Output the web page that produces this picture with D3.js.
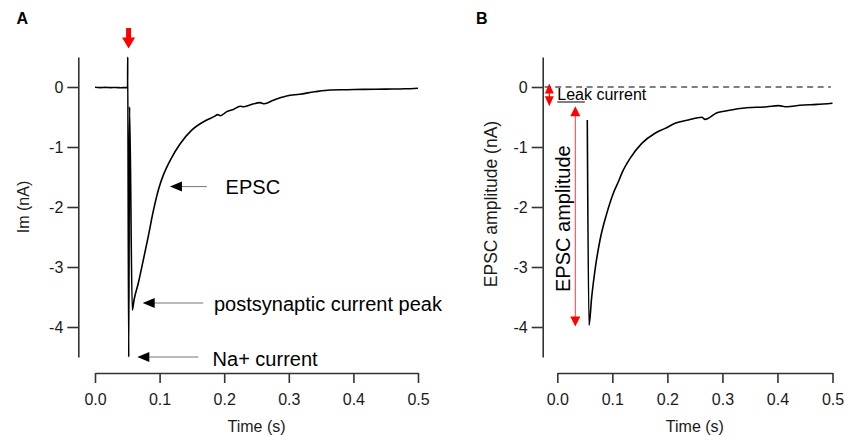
<!DOCTYPE html>
<html><head><meta charset="utf-8">
<script src="https://cdn.jsdelivr.net/npm/d3@7"></script>
<style>
body{margin:0;background:#fff;}
svg{display:block;font-family:"Liberation Sans",Arial,Helvetica,sans-serif;}
</style></head><body>
<svg id="chart" width="846" height="436"></svg>
<script>
// ---------------- data ----------------
const xTickValues = [0, 0.1, 0.2, 0.3, 0.4, 0.5];
const yTickValues = [0, -1, -2, -3, -4];

// Panel A: raw recorded current (nA) vs time (s)
const timeA = [0, 0.008, 0.016, 0.024, 0.032, 0.04, 0.048, 0.0505,
  0.0506, 0.0522, 0.0535, 0.0577,
  0.0604, 0.067, 0.0748, 0.0825, 0.0902, 0.0985, 0.105, 0.111, 0.117,
  0.1316, 0.1497, 0.173, 0.185, 0.19, 0.194, 0.204, 0.215, 0.2245, 0.23, 0.24,
  0.2554, 0.262, 0.276, 0.2967, 0.317, 0.34, 0.364, 0.39, 0.415, 0.45, 0.48, 0.5];
const currentA = [-0.005, -0.01, -0.006, -0.01, -0.008, -0.012, -0.01, -0.01,
  0.5, -4.5, -0.33, -3.72,
  -3.55, -3.27, -2.88, -2.49, -2.07, -1.70, -1.49, -1.34, -1.21,
  -0.95, -0.72, -0.55, -0.49, -0.46, -0.48, -0.41, -0.37, -0.32, -0.33, -0.30,
  -0.26, -0.28, -0.22, -0.15, -0.12, -0.08, -0.05, -0.045, -0.04, -0.035, -0.03, -0.02];

// Panel B: leak-corrected EPSC trace
const timeB = [0.0545, 0.0576, 0.0625, 0.0685, 0.0776, 0.0898, 0.1018, 0.1109, 0.1171,
  0.1322, 0.1535, 0.1776, 0.1958, 0.214, 0.238, 0.2625, 0.2685, 0.29, 0.308,
  0.344, 0.381, 0.402, 0.417, 0.441, 0.4716, 0.5];
const currentB = [-0.55, -3.97, -3.50, -3.05, -2.55, -2.11, -1.77, -1.58, -1.44,
  -1.19, -0.94, -0.77, -0.69, -0.605, -0.55, -0.505, -0.54, -0.43, -0.395,
  -0.345, -0.33, -0.31, -0.33, -0.305, -0.29, -0.27];

const annotationLabels = ["EPSC", "postsynaptic current peak", "Na+ current"];
const leakLabel = "Leak current";
const amplitudeLabel = "EPSC amplitude";
const stimulusTime = 0.052;
const leakLevel = -0.25;
const leakBottom = -0.32;
const peakB = -3.99;

// ---------------- layout ----------------
const svg = d3.select("#chart");
const FONT = 16;
const yRange = [357, 57];
const yDomain = [-4.5, 0.5];

const xA = d3.scaleLinear().domain([0, 0.5]).range([95, 418]);
const yA = d3.scaleLinear().domain(yDomain).range(yRange);
const xB = d3.scaleLinear().domain([0, 0.5]).range([557.3, 832.5]);
const yB = d3.scaleLinear().domain(yDomain).range(yRange);

function drawAxes(x, y, yAxisX, yLabel, yLabelX, yLabelY, yLabelSize) {
  const gy = svg.append("g").attr("transform", `translate(${yAxisX},0)`)
    .call(d3.axisLeft(y).tickValues(yTickValues).tickSize(11).tickPadding(4)
      .tickSizeOuter(0).tickFormat(d => String(d)));
  const gx = svg.append("g").attr("transform", `translate(0,373)`)
    .call(d3.axisBottom(x).tickValues(xTickValues).tickSize(10).tickPadding(11)
      .tickSizeOuter(0).tickFormat(d3.format(".1f")));
  [gx, gy].forEach(g => {
    g.select(".domain").attr("stroke", "#333").attr("stroke-width", 1.6);
    g.selectAll(".tick line").attr("stroke", "#333").attr("stroke-width", 1.6);
    g.selectAll(".tick text").attr("fill", "#1a1a1a").style("font-size", FONT + "px")
      .style("font-family", '"Liberation Sans",Arial,sans-serif');
  });
  svg.append("text").attr("x", (x.range()[0] + x.range()[1]) / 2).attr("y", 432)
    .attr("text-anchor", "middle").attr("fill", "#1a1a1a").style("font-size", FONT + "px")
    .text("Time (s)");
  svg.append("text").attr("transform", `translate(${yLabelX},${yLabelY}) rotate(-90)`)
    .attr("text-anchor", "middle").attr("fill", "#1a1a1a").style("font-size", yLabelSize + "px")
    .text(yLabel);
}

drawAxes(xA, yA, 78.3, "Im (nA)", 29, 207, 16);
drawAxes(xB, yB, 542.7, "EPSC amplitude (nA)", 496.5, 204, 17.5);

// panel letters
svg.append("text").attr("x", 16.5).attr("y", 23.5).style("font-size", "16px")
  .style("font-weight", "bold").text("A");
svg.append("text").attr("x", 476).attr("y", 24).style("font-size", "16px")
  .style("font-weight", "bold").text("B");

// traces
const traceA = timeA.map((t, i) => [t, currentA[i]]);
const traceB = timeB.map((t, i) => [t, currentB[i]]);

svg.append("path").datum(traceA)
  .attr("d", d3.line().x(d => xA(d[0])).y(d => yA(d[1])).curve(d3.curveMonotoneX))
  .attr("fill", "none").attr("stroke", "#000").attr("stroke-width", 1.6)
  .attr("stroke-linejoin", "round");

// dashed zero line in B
svg.append("line").attr("x1", xB(-0.023)).attr("x2", xB(0.497))
  .attr("y1", yB(0)).attr("y2", yB(0))
  .attr("stroke", "#555").attr("stroke-width", 1.4).attr("stroke-dasharray", "6,4.5");

svg.append("path").datum(traceB)
  .attr("d", d3.line().x(d => xB(d[0])).y(d => yB(d[1])).curve(d3.curveMonotoneX))
  .attr("fill", "none").attr("stroke", "#000").attr("stroke-width", 1.6)
  .attr("stroke-linejoin", "round");

// red stimulus arrow in A
{
  const cx = xA(stimulusTime);
  svg.append("path")
    .attr("d", `M${cx - 2.5},28 L${cx + 2.5},28 L${cx + 2.5},37.5 L${cx + 6.5},37.5 L${cx},48.5 L${cx - 6.5},37.5 L${cx - 2.5},37.5 Z`)
    .attr("fill", "#ff0000");
}

// annotation arrows in A
const annTip = [[0.116, -1.66], [0.0738, -3.6], [0.0655, -4.5]];
const annTail = [0.173, 0.1676, 0.16];
const annText = [[0.2022, 194.3], [0.1842, 310.5], [0.182, 366]];
annotationLabels.forEach((lab, i) => {
  const tx = xA(annTip[i][0]), ty = yA(annTip[i][1]);
  svg.append("line").attr("x1", tx + 10).attr("x2", xA(annTail[i]))
    .attr("y1", ty).attr("y2", ty).attr("stroke", "#777").attr("stroke-width", 1);
  svg.append("path").attr("d", `M${tx},${ty} L${tx + 12},${ty - 5} L${tx + 12},${ty + 5} Z`)
    .attr("fill", "#000");
  svg.append("text").attr("x", xA(annText[i][0])).attr("y", annText[i][1])
    .style("font-size", "20px").attr("fill", "#000").text(lab);
});

// B annotations
{
  // leak double arrow
  const lx = xB(-0.0145);
  const top = yB(0.06), bot = yB(leakBottom);
  svg.append("line").attr("x1", lx).attr("x2", lx).attr("y1", top + 5).attr("y2", bot - 5)
    .attr("stroke", "#ff0000").attr("stroke-width", 1.2);
  svg.append("path").attr("d", `M${lx},${top} L${lx + 4.5},${top + 10} L${lx - 4.5},${top + 10} Z`).attr("fill", "#ff0000");
  svg.append("path").attr("d", `M${lx},${bot} L${lx + 4.5},${bot - 10} L${lx - 4.5},${bot - 10} Z`).attr("fill", "#ff0000");
  // leak level line
  svg.append("line").attr("x1", xB(0)).attr("x2", xB(0.05)).attr("y1", yB(leakLevel)).attr("y2", yB(leakLevel))
    .attr("stroke", "#000").attr("stroke-width", 1);
  svg.append("text").attr("x", xB(0)).attr("y", 99.5).style("font-size", "16px").attr("fill", "#000").text(leakLabel);

  // EPSC amplitude arrow
  const ax = xB(0.0327);
  const at = yB(leakBottom), ab = yB(peakB);
  svg.append("line").attr("x1", ax).attr("x2", ax).attr("y1", at + 8).attr("y2", ab - 8)
    .attr("stroke", "#ff3b3b").attr("stroke-width", 1);
  svg.append("path").attr("d", `M${ax},${at} L${ax + 5},${at + 10} L${ax - 5},${at + 10} Z`).attr("fill", "#ff0000");
  svg.append("path").attr("d", `M${ax},${ab} L${ax + 5},${ab - 10} L${ax - 5},${ab - 10} Z`).attr("fill", "#ff0000");
  svg.append("text").attr("transform", `translate(570,292) rotate(-90)`)
    .style("font-size", "20px").attr("fill", "#000").text(amplitudeLabel);
}
</script>
</body></html>
